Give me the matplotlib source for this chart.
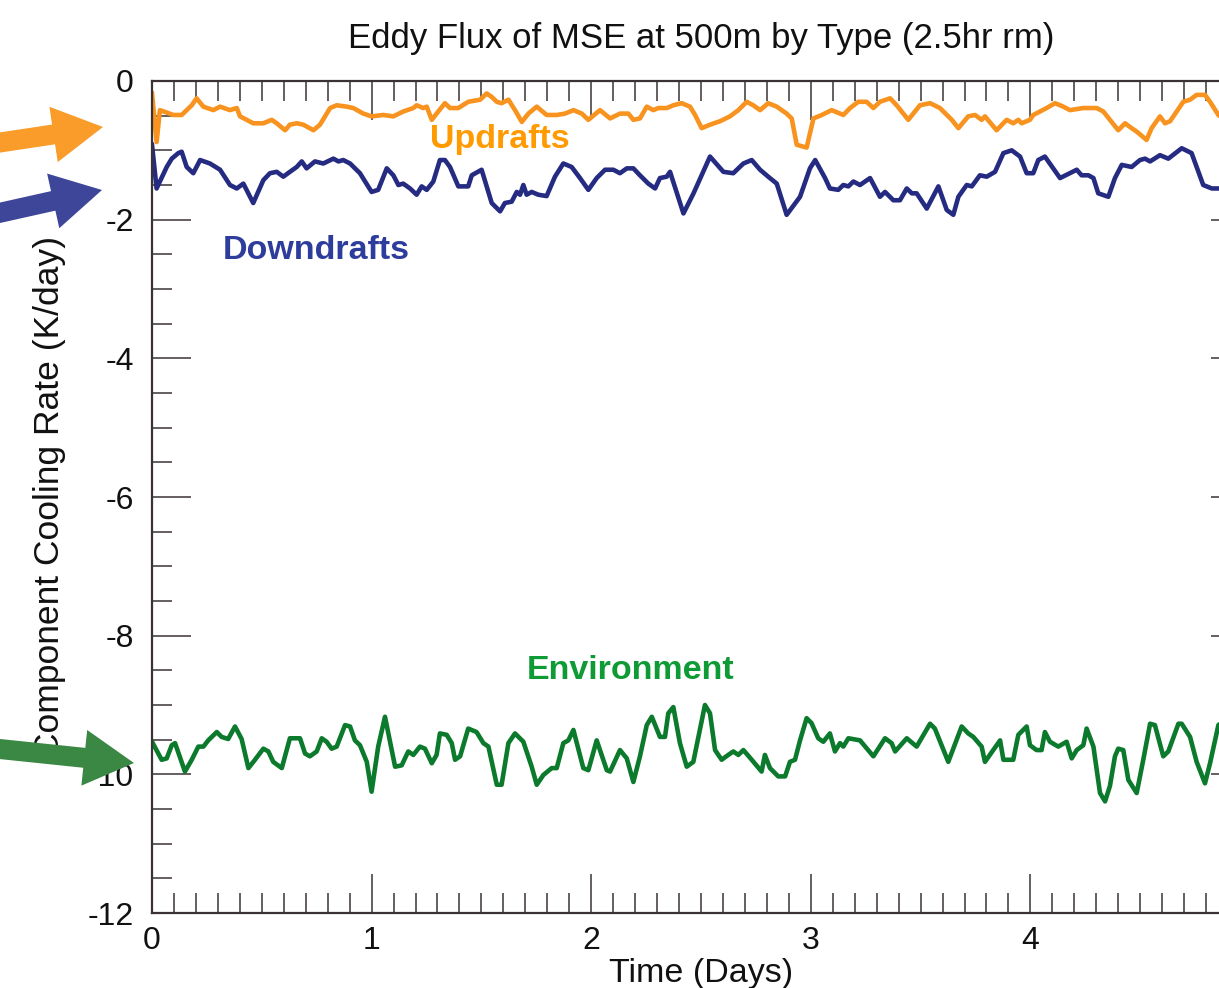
import matplotlib
matplotlib.use("Agg")
import matplotlib.pyplot as plt
from matplotlib.patches import FancyArrow
from matplotlib.ticker import MultipleLocator, FixedLocator

plt.rcParams['font.family'] = ['Liberation Sans', 'DejaVu Sans']
plt.rcParams['axes.unicode_minus'] = False

# ---------------- data ----------------
up_t = [0.0, 0.021, 0.036, 0.097, 0.135, 0.181, 0.203, 0.234, 0.279, 0.310, 0.355, 0.386, 0.401, 0.431,
        0.461, 0.507, 0.545, 0.568, 0.606, 0.628, 0.659, 0.689, 0.735, 0.765, 0.811, 0.841, 0.887, 0.917,
        0.962, 1.000, 1.053, 1.099, 1.144, 1.190, 1.205, 1.235, 1.251, 1.274, 1.296, 1.334, 1.357, 1.395,
        1.440, 1.494, 1.524, 1.547, 1.570, 1.592, 1.623, 1.653, 1.684, 1.714, 1.752, 1.797, 1.843, 1.881,
        1.919, 1.957, 1.987, 2.040, 2.086, 2.131, 2.169, 2.192, 2.222, 2.253, 2.283, 2.306, 2.344, 2.374,
        2.412, 2.450, 2.473, 2.503, 2.541, 2.587, 2.632, 2.670, 2.708, 2.738, 2.769, 2.806, 2.845, 2.890,
        2.913, 2.936, 2.981, 3.012, 3.050, 3.095, 3.148, 3.179, 3.216, 3.254, 3.285, 3.315, 3.361, 3.391,
        3.444, 3.497, 3.543, 3.588, 3.642, 3.672, 3.717, 3.748, 3.778, 3.793, 3.846, 3.892, 3.922, 3.945,
        3.960, 3.998, 4.013, 4.074, 4.112, 4.150, 4.180, 4.241, 4.302, 4.332, 4.362, 4.400, 4.431, 4.461,
        4.484, 4.529, 4.552, 4.590, 4.613, 4.636, 4.696, 4.727, 4.757, 4.795, 4.818, 4.856, 4.90]
up_v = [-0.18, -0.88, -0.42, -0.49, -0.49, -0.35, -0.25, -0.37, -0.42, -0.37, -0.42, -0.39, -0.51, -0.56,
        -0.61, -0.61, -0.56, -0.61, -0.71, -0.63, -0.61, -0.63, -0.71, -0.63, -0.39, -0.35, -0.37, -0.39,
        -0.47, -0.51, -0.49, -0.51, -0.44, -0.39, -0.35, -0.39, -0.37, -0.56, -0.47, -0.32, -0.39, -0.39,
        -0.30, -0.27, -0.18, -0.23, -0.30, -0.32, -0.27, -0.42, -0.59, -0.47, -0.37, -0.49, -0.49, -0.47,
        -0.42, -0.47, -0.56, -0.42, -0.54, -0.47, -0.47, -0.56, -0.54, -0.37, -0.42, -0.39, -0.39, -0.35,
        -0.32, -0.37, -0.49, -0.68, -0.63, -0.58, -0.51, -0.42, -0.30, -0.35, -0.42, -0.32, -0.37, -0.47,
        -0.54, -0.92, -0.96, -0.54, -0.49, -0.42, -0.49, -0.39, -0.30, -0.30, -0.39, -0.30, -0.25, -0.35,
        -0.56, -0.35, -0.32, -0.39, -0.56, -0.68, -0.51, -0.49, -0.56, -0.51, -0.71, -0.56, -0.61, -0.56,
        -0.61, -0.56, -0.49, -0.39, -0.32, -0.37, -0.42, -0.39, -0.39, -0.44, -0.56, -0.71, -0.61, -0.68,
        -0.73, -0.85, -0.68, -0.51, -0.61, -0.58, -0.30, -0.27, -0.20, -0.20, -0.30, -0.49, -0.60]

down_t = [0.0, 0.021, 0.067, 0.090, 0.120, 0.135, 0.158, 0.188, 0.219, 0.264, 0.310, 0.355, 0.386, 0.416,
          0.461, 0.507, 0.537, 0.568, 0.598, 0.628, 0.659, 0.682, 0.704, 0.742, 0.780, 0.826, 0.849, 0.871,
          0.902, 0.947, 1.000, 1.030, 1.069, 1.099, 1.122, 1.144, 1.175, 1.205, 1.228, 1.251, 1.281, 1.311,
          1.334, 1.357, 1.395, 1.440, 1.456, 1.501, 1.547, 1.585, 1.607, 1.638, 1.661, 1.676, 1.691, 1.706,
          1.729, 1.759, 1.797, 1.835, 1.873, 1.911, 1.949, 1.987, 2.025, 2.063, 2.101, 2.131, 2.162, 2.192,
          2.222, 2.260, 2.291, 2.313, 2.344, 2.359, 2.420, 2.466, 2.541, 2.602, 2.647, 2.693, 2.731, 2.769,
          2.806, 2.845, 2.890, 2.951, 2.996, 3.020, 3.065, 3.087, 3.125, 3.148, 3.171, 3.194, 3.224, 3.270,
          3.315, 3.338, 3.376, 3.406, 3.437, 3.460, 3.482, 3.528, 3.581, 3.619, 3.649, 3.672, 3.710, 3.733,
          3.770, 3.801, 3.839, 3.877, 3.915, 3.953, 3.983, 4.013, 4.036, 4.066, 4.135, 4.211, 4.233, 4.264,
          4.287, 4.309, 4.355, 4.385, 4.416, 4.461, 4.499, 4.522, 4.545, 4.590, 4.628, 4.689, 4.734, 4.787,
          4.826, 4.856, 4.90]
down_v = [-0.92, -1.55, -1.24, -1.12, -1.04, -1.02, -1.24, -1.33, -1.14, -1.19, -1.28, -1.50, -1.55, -1.48,
          -1.76, -1.43, -1.33, -1.31, -1.38, -1.31, -1.24, -1.16, -1.26, -1.16, -1.19, -1.12, -1.16, -1.14,
          -1.19, -1.33, -1.60, -1.57, -1.26, -1.36, -1.50, -1.48, -1.55, -1.64, -1.52, -1.57, -1.45, -1.14,
          -1.14, -1.24, -1.52, -1.52, -1.36, -1.28, -1.76, -1.88, -1.76, -1.74, -1.60, -1.64, -1.50, -1.64,
          -1.60, -1.64, -1.66, -1.38, -1.19, -1.24, -1.40, -1.57, -1.40, -1.28, -1.28, -1.33, -1.26, -1.26,
          -1.36, -1.48, -1.55, -1.40, -1.38, -1.31, -1.91, -1.62, -1.09, -1.31, -1.33, -1.19, -1.14, -1.28,
          -1.38, -1.48, -1.93, -1.67, -1.26, -1.14, -1.40, -1.55, -1.57, -1.50, -1.52, -1.45, -1.50, -1.40,
          -1.67, -1.60, -1.72, -1.72, -1.55, -1.62, -1.62, -1.84, -1.52, -1.86, -1.93, -1.67, -1.50, -1.52,
          -1.36, -1.38, -1.31, -1.04, -1.00, -1.09, -1.33, -1.33, -1.14, -1.09, -1.40, -1.28, -1.36, -1.36,
          -1.40, -1.62, -1.67, -1.40, -1.21, -1.24, -1.14, -1.12, -1.16, -1.07, -1.12, -0.97, -1.04, -1.50,
          -1.55, -1.55, -1.55]

env_t = [0.0, 0.044, 0.067, 0.090, 0.105, 0.150, 0.181, 0.211, 0.234, 0.256, 0.295, 0.317, 0.347, 0.378,
         0.408, 0.439, 0.469, 0.507, 0.530, 0.552, 0.591, 0.628, 0.674, 0.697, 0.719, 0.750, 0.773, 0.795,
         0.818, 0.841, 0.879, 0.902, 0.924, 0.947, 0.978, 1.000, 1.030, 1.061, 1.107, 1.137, 1.167, 1.190,
         1.220, 1.243, 1.274, 1.296, 1.311, 1.342, 1.365, 1.380, 1.403, 1.440, 1.478, 1.509, 1.532, 1.570,
         1.592, 1.623, 1.653, 1.691, 1.729, 1.752, 1.782, 1.820, 1.843, 1.873, 1.896, 1.919, 1.964, 1.987,
         2.025, 2.071, 2.086, 2.131, 2.162, 2.192, 2.222, 2.253, 2.276, 2.313, 2.336, 2.351, 2.374, 2.404,
         2.435, 2.465, 2.495, 2.518, 2.541, 2.564, 2.594, 2.624, 2.647, 2.670, 2.693, 2.731, 2.776, 2.791,
         2.814, 2.852, 2.883, 2.905, 2.928, 2.951, 2.981, 3.003, 3.034, 3.057, 3.087, 3.110, 3.133, 3.148,
         3.171, 3.224, 3.285, 3.338, 3.368, 3.384, 3.437, 3.482, 3.543, 3.565, 3.626, 3.687, 3.717, 3.740,
         3.778, 3.793, 3.862, 3.877, 3.922, 3.945, 3.983, 3.998, 4.028, 4.051, 4.066, 4.089, 4.127, 4.165,
         4.188, 4.211, 4.241, 4.256, 4.287, 4.317, 4.340, 4.362, 4.385, 4.400, 4.423, 4.446, 4.484, 4.514,
         4.545, 4.567, 4.605, 4.628, 4.674, 4.689, 4.727, 4.757, 4.795, 4.818, 4.856, 4.90]
env_v = [-9.53, -9.79, -9.77, -9.58, -9.55, -9.96, -9.79, -9.60, -9.60, -9.51, -9.39, -9.46, -9.49, -9.31,
         -9.49, -9.91, -9.79, -9.63, -9.67, -9.82, -9.91, -9.48, -9.48, -9.70, -9.74, -9.67, -9.48, -9.53,
         -9.63, -9.60, -9.29, -9.31, -9.51, -9.58, -9.82, -10.25, -9.60, -9.17, -9.89, -9.87, -9.67, -9.72,
         -9.60, -9.63, -9.84, -9.72, -9.41, -9.43, -9.55, -9.79, -9.74, -9.34, -9.39, -9.55, -9.60, -10.15,
         -10.15, -9.55, -9.41, -9.53, -9.89, -10.15, -10.01, -9.91, -9.91, -9.55, -9.51, -9.36, -9.91, -9.94,
         -9.51, -9.94, -9.96, -9.65, -9.77, -10.11, -9.74, -9.29, -9.17, -9.46, -9.46, -9.12, -9.03, -9.55,
         -9.89, -9.82, -9.36, -9.00, -9.12, -9.65, -9.79, -9.72, -9.67, -9.72, -9.65, -9.79, -9.96, -9.72,
         -9.91, -10.03, -10.03, -9.82, -9.79, -9.51, -9.19, -9.26, -9.48, -9.53, -9.41, -9.67, -9.55, -9.60,
         -9.48, -9.51, -9.74, -9.48, -9.55, -9.67, -9.48, -9.60, -9.27, -9.34, -9.82, -9.31, -9.41, -9.46,
         -9.60, -9.82, -9.51, -9.79, -9.79, -9.43, -9.31, -9.58, -9.65, -9.65, -9.39, -9.53, -9.60, -9.53,
         -9.77, -9.65, -9.58, -9.34, -9.60, -10.27, -10.39, -10.17, -9.74, -9.63, -9.65, -10.08, -10.27, -9.79,
         -9.27, -9.29, -9.74, -9.67, -9.27, -9.27, -9.46, -9.82, -10.13, -9.84, -9.29, -9.20]

series_names = ["Updrafts", "Downdrafts", "Environment"]
x_ticks = [0, 1, 2, 3, 4, 5]
x_ticklabels = ["0", "1", "2", "3", "4", ""]
title = "Eddy Flux of MSE at 500m by Type (2.5hr rm)"
xlabel = "Time (Days)"
ylabel = "Component Cooling Rate (K/day)"

# ---------------- figure ----------------
W, H = 1219, 988
fig = plt.figure(figsize=(W / 100, H / 100), dpi=100)
fig.patch.set_facecolor("white")

ax = fig.add_axes([152 / W, 75 / H, 1098 / W, 832 / H])
line_orange = "#F7931E"
line_blue = "#262B82"
line_green = "#0B7A2C"
ax.plot(up_t, up_v, color=line_orange, lw=3.3, solid_joinstyle="round")
ax.plot(down_t, down_v, color=line_blue, lw=3.3, solid_joinstyle="round")
ax.plot(env_t, env_v, color=line_green, lw=3.3, solid_joinstyle="round")

ax.set_xlim(0, 5)
ax.set_ylim(-12, 0)
ax.xaxis.set_major_locator(FixedLocator(x_ticks))
ax.set_xticklabels(x_ticklabels)
ax.xaxis.set_minor_locator(MultipleLocator(0.1))
ax.yaxis.set_major_locator(MultipleLocator(2))
ax.yaxis.set_minor_locator(MultipleLocator(0.5))
spine_col = "#3b3333"
for s in ax.spines.values():
    s.set_color(spine_col)
    s.set_linewidth(1.6)
ax.tick_params(which="both", direction="in", top=True, right=True, color=spine_col,
               labelsize=23, labelcolor="#111111")
ax.tick_params(which="major", length=28, width=1.1)
ax.tick_params(which="minor", length=14.5, width=1.1)
ax.tick_params(axis="x", which="major", pad=9)
ax.tick_params(axis="y", which="major", pad=13)

ax.set_title(title, fontsize=25, pad=24, color="#111111")
ax.set_xlabel(xlabel, fontsize=24.5, labelpad=2, color="#111111")
ax.set_ylabel(ylabel, fontsize=25.5, color="#111111")
ax.yaxis.set_label_coords((66 - 152) / 1098, 0.5)

ax.text(1.585, -0.85, series_names[0], color="#FF9A00", fontsize=24.5, fontweight="bold",
        ha="center", va="center")
ax.text(0.747, -2.44, series_names[1], color="#2E3D9C", fontsize=24.5, fontweight="bold",
        ha="center", va="center")
ax.text(2.177, -8.50, series_names[2], color="#0E9A35", fontsize=24.5, fontweight="bold",
        ha="center", va="center")

# ---------------- pointer arrows (figure pixel space) ----------------
ov = fig.add_axes([0, 0, 1, 1], facecolor="none")
ov.set_xlim(0, W)
ov.set_ylim(H, 0)
ov.axis("off")
arrows = [((-10, 144), (103, 127), "#F99C2A"),
          ((-10, 215), (102, 190), "#3E4699"),
          ((-10, 748), (134, 763), "#3A8844")]
for (x0, y0), (x1, y1), c in arrows:
    ov.add_patch(FancyArrow(x0, y0, x1 - x0, y1 - y0, width=20, head_width=56,
                            head_length=50, length_includes_head=True,
                            color=c, lw=0))

fig.savefig("out.png", dpi=100)
